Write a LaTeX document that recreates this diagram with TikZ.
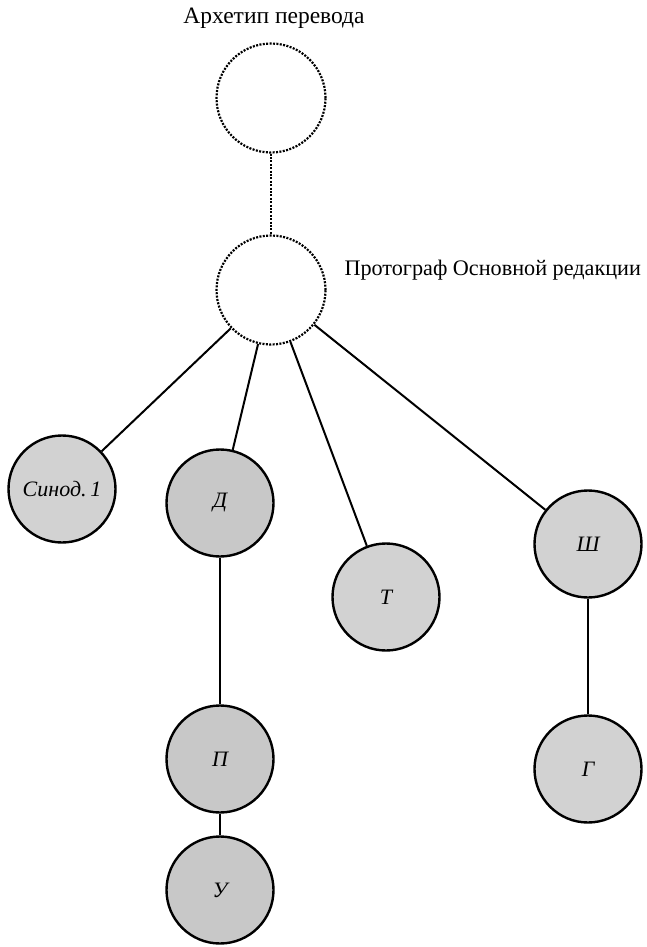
\documentclass[tikz,border=0pt]{standalone}
\usepackage{fontspec}
\setmainfont{Liberation Serif}
\usepackage{tikz}
\usetikzlibrary{positioning}
\definecolor{mscolor}{RGB}{210,210,210}
\definecolor{msdark}{RGB}{200,200,200}

\begin{document}
\begin{tikzpicture}[
    x=1pt, y=-1pt,
    lost/.style={circle, draw, line width=2.2pt, dash pattern=on 2pt off 1.4pt, minimum size=109pt, inner sep=0pt},
    copy/.style={circle, draw, line width=2.4pt, fill=mscolor, minimum size=107pt, inner sep=0pt, font=\fontsize{22}{26}\selectfont\itshape},
    link/.style={line width=2pt},
    label/.style={font=\fontsize{23.5}{28}\selectfont}
]
\useasboundingbox (0,0) rectangle (646,947);

% Nodes
\node[lost] (arch) at (271,98) {};
\node[lost] (proto) at (271,290) {};
\node[copy] (synod) at (62,489) {Синод.\,1};
\node[copy, fill=msdark] (d) at (220,503) {Д};
\node[copy] (t) at (386,597) {Т};
\node[copy] (sh) at (588,544) {Ш};
\node[copy, fill=msdark] (p) at (220,759) {П};
\node[copy, fill=msdark] (u) at (220,890) {У};
\node[copy] (g) at (588,769) {Г};

% Lines
\draw[link, line width=2.2pt, dash pattern=on 2pt off 1.4pt] (arch) -- (proto);
\draw[link] (proto) -- (synod);
\draw[link] (proto) -- (d);
\draw[link] (proto) -- (t);
\draw[link] (proto) -- (sh);
\draw[link] (d) -- (p);
\draw[link] (p) -- (u);
\draw[link] (sh) -- (g);

% Labels
\node[label] (archlab) at (274,18) {Архетип перевода};
\node[label, font=\fontsize{22.2}{26}\selectfont, anchor=west] (protolab) at (341,270) {Протограф Основной редакции};

\end{tikzpicture}
\end{document}
